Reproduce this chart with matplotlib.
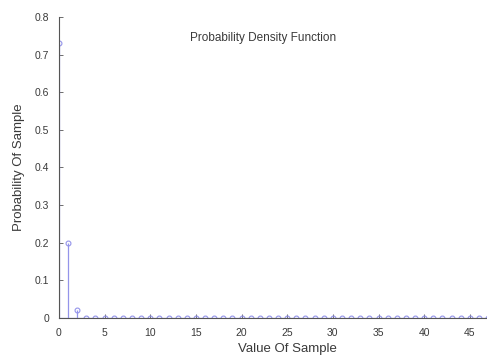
import matplotlib
matplotlib.use("Agg")
import matplotlib.pyplot as plt

# sample values and their estimated probabilities
sample_values = list(range(0, 51))
probabilities = [0.73, 0.20, 0.02] + [0.0] * 48

x_ticks = [0, 5, 10, 15, 20, 25, 30, 35, 40, 45]
y_ticks = [0, 0.1, 0.2, 0.3, 0.4, 0.5, 0.6, 0.7, 0.8]
y_tick_labels = ["0", "0.1", "0.2", "0.3", "0.4", "0.5", "0.6", "0.7", "0.8"]

stem_color = "#9494ea"
text_color = "#3a3a3a"

plt.rcParams['font.family'] = ['Liberation Sans', 'DejaVu Sans']

fig = plt.figure(figsize=(4.87, 3.6), dpi=100)
ax = fig.add_axes([0.1211, 0.1167, 0.9374, 0.8361])

markerline, stemlines, baseline = ax.stem(sample_values, probabilities)
plt.setp(markerline, marker='o', markersize=3.5, markerfacecolor='none',
         markeredgecolor=stem_color, markeredgewidth=0.8)
plt.setp(stemlines, color=stem_color, linewidth=0.9)
plt.setp(baseline, color=stem_color, linewidth=0.9)

ax.set_xlim(0, 50)
ax.set_ylim(0, 0.8)
ax.set_xticks(x_ticks)
ax.set_yticks(y_ticks)
ax.set_yticklabels(y_tick_labels)

for side in ['top', 'right']:
    ax.spines[side].set_visible(False)
for side in ['left', 'bottom']:
    ax.spines[side].set_color('#555555')
    ax.spines[side].set_linewidth(0.8)

ax.tick_params(direction='in', length=3, width=0.6, colors='#555555',
               labelsize=7.5, labelcolor=text_color)
ax.tick_params(axis='x', pad=7)
ax.tick_params(axis='y', pad=7)

ax.set_xlabel('Value Of Sample', fontsize=9.5, color=text_color, labelpad=4)
ax.set_ylabel('Probability Of Sample', fontsize=9.5, color=text_color, labelpad=7)
ax.text(22.4, 0.745, 'Probability Density Function', fontsize=8.5,
        color=text_color, ha='center', va='center')

fig.savefig('out.png', dpi=100)
